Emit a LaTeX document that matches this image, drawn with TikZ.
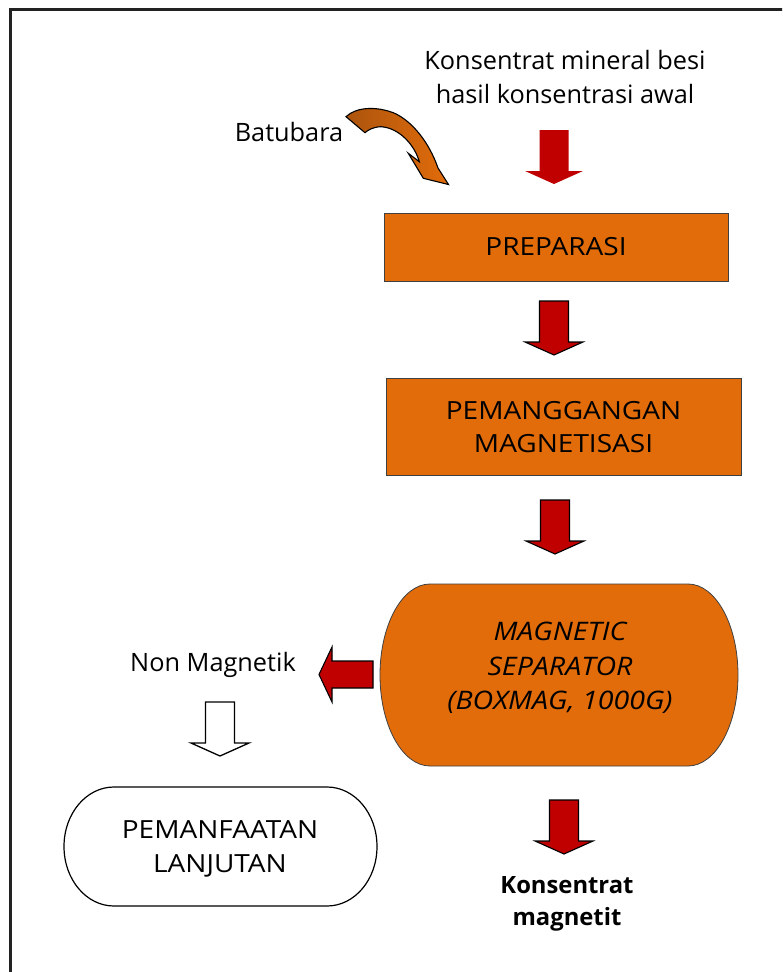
\documentclass[tikz,border=0pt]{standalone}
\usepackage{fontspec}
\setmainfont{Open Sans}[Ligatures={NoCommon}]
\newfontfamily\capsfont{Open Sans}[FakeStretch=1.12, Ligatures={NoCommon}]
\definecolor{boxorange}{RGB}{226,108,10}
\definecolor{arrred}{RGB}{192,0,0}
\definecolor{coaldark}{RGB}{172,84,14}
\definecolor{framegray}{RGB}{34,34,34}
\tikzset{
  downarr/.pic={\path[pic actions] (-14.5,0) -- (14.5,0) -- (14.5,41) -- (29,41) -- (0,54) -- (-29,41) -- (-14.5,41) -- cycle;},
  redarr/.style={fill=arrred, draw=black, line width=1.1pt, line join=miter},
  procbox/.style={rectangle, fill=boxorange, draw=black!75, line width=0.8pt, align=center, inner sep=0pt},
  lbl/.style={align=center, inner sep=0pt, font=\fontsize{25.3}{33.5}\selectfont},
  caps/.style={align=center, inner sep=0pt, font=\fontsize{25}{33.5}\selectfont\capsfont},
}
\begin{document}
\begin{tikzpicture}[x=1pt,y=-1pt]
\useasboundingbox (0,0) rectangle (782,972);
\clip (0,0) rectangle (782,972);
\fill[white] (0,0) rectangle (782,972);
% frame
\draw[framegray, line width=3pt] (10.5,990) -- (10.5,9.5) -- (800,9.5);

% input text
\node[lbl] (input) at (565,77) {Konsentrat mineral besi\\hasil konsentrasi awal};
\node[lbl, anchor=center] (coal) at (289,132) {Batubara};

% curved arrow (batubara)
\path[draw=black, line width=1.1pt, line join=miter, left color=coaldark, right color=boxorange]
  (346,116.7) .. controls (356,107) and (376,106) .. (394,113)
  .. controls (412,121) and (429,142) .. (438,168)
  -- (448.5,184.5) -- (423.3,178.3) -- (408.3,153.3) -- (419.3,161.7)
  .. controls (415,146) and (400,128) .. (381,126.7)
  .. controls (373,127) and (368,130) .. (365,132.7) -- cycle;

% arrow 1 (no outline)
\pic[fill=arrred] at (554,130) {downarr};

% PREPARASI
\node[procbox, caps, minimum width=344pt, minimum height=68pt] (prep) at (556,247) {PREPARASI};
\pic[redarr] at (554,301) {downarr};

% PEMANGGANGAN
\node[procbox, caps, minimum width=355pt, minimum height=97pt] (roast) at (563.5,427) {PEMANGGANGAN\\MAGNETISASI};
\pic[redarr] at (555,500) {downarr};

% magnetic separator
\path[fill=boxorange, draw=black!75, line width=0.8pt]
  (430,584) -- (688,584)
  .. controls (715.6,584) and (738,624.7) .. (738,675)
  .. controls (738,725.3) and (715.6,766) .. (688,766)
  -- (430,766)
  .. controls (402.4,766) and (380,725.3) .. (380,675)
  .. controls (380,624.7) and (402.4,584) .. (430,584) -- cycle;
\node[caps, font=\fontsize{25.5}{34.5}\selectfont\capsfont\itshape] (sep) at (560,668) {MAGNETIC\\SEPARATOR\\(BOXMAG, 1000G)};

% left arrow to non magnetik
\path[redarr] (373,661) -- (373,688) -- (332,688) -- (332,702) -- (319,674.5) -- (332,647) -- (332,661) -- cycle;
\node[lbl] (nonmag) at (213,665) {Non Magnetik};

% white arrow
\pic[fill=white, draw=black, line width=1.3pt, line join=miter] at (220,702) {downarr};

% pemanfaatan lanjutan
\path[fill=white, draw=black, line width=1.2pt]
  (114,787) -- (327,787)
  .. controls (354.6,787) and (377,813.4) .. (377,846.5)
  .. controls (377,879.6) and (354.6,906) .. (327,906)
  -- (114,906)
  .. controls (86.4,906) and (64,879.6) .. (64,846.5)
  .. controls (64,813.4) and (86.4,787) .. (114,787) -- cycle;
\node[caps] (use) at (220,849) {PEMANFAATAN\\LANJUTAN};

% arrow 4 and output
\pic[redarr] at (564,800) {downarr};
\node[lbl, font=\fontsize{23.8}{32}\selectfont\bfseries] (out) at (567,904) {Konsentrat\\magnetit};
\end{tikzpicture}
\end{document}
